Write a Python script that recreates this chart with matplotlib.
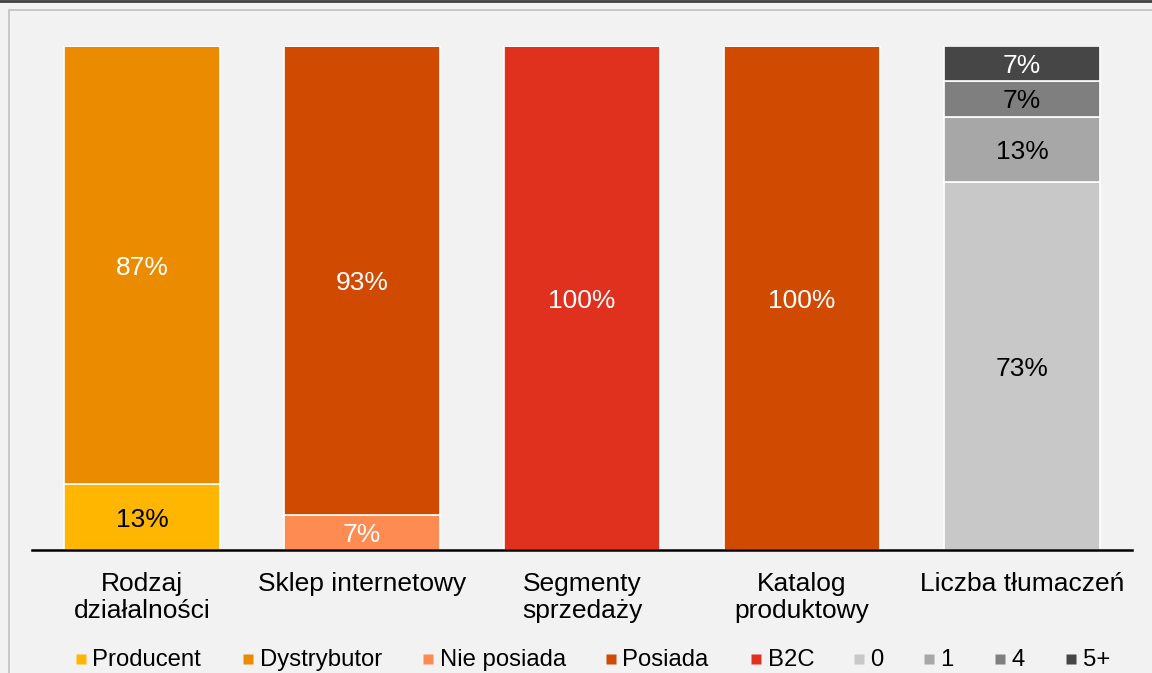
import matplotlib as mpl
mpl.use('Agg')
import matplotlib.pyplot as plt
from matplotlib.lines import Line2D
from matplotlib.patches import Rectangle
import numpy as np

plt.rcParams['font.family'] = ['Liberation Sans', 'DejaVu Sans']

categories = ['Rodzaj\ndziałalności', 'Sklep internetowy', 'Segmenty\nsprzedaży',
              'Katalog\nproduktowy', 'Liczba tłumaczeń']
series_names = ['Producent', 'Dystrybutor', 'Nie posiada', 'Posiada', 'B2C',
                '0', '1', '4', '5+']
producent = [13, 0, 0, 0, 0]
dystrybutor = [87, 0, 0, 0, 0]
nie_posiada = [0, 7, 0, 0, 0]
posiada = [0, 93, 0, 100, 0]
b2c = [0, 0, 100, 0, 0]
t0 = [0, 0, 0, 0, 73]
t1 = [0, 0, 0, 0, 13]
t4 = [0, 0, 0, 0, 7]
t5 = [0, 0, 0, 0, 7]
series_values = [producent, dystrybutor, nie_posiada, posiada, b2c, t0, t1, t4, t5]
colors = ['#FFB600', '#EB8C00', '#FD8B52', '#D04A02', '#E0301E',
          '#C8C8C8', '#A7A7A7', '#7F7F7F', '#464646']
label_colors = ['black', 'white', 'white', 'white', 'white',
                'black', 'black', 'black', 'white']

W, H = 1152, 673
bg = '#F2F2F2'
fig = plt.figure(figsize=(W / 100, H / 100), dpi=100, facecolor=bg)
ax = fig.add_axes([32 / W, 1 - 550 / H, 1100 / W, 504 / H])
ax.set_facecolor(bg)

x = np.arange(len(categories))
bottom = np.zeros(len(categories))
for name, vals, c, lc in zip(series_names, series_values, colors, label_colors):
    vals = np.array(vals, dtype=float)
    bars = ax.bar(x, vals, 0.71, bottom=bottom, color=c, edgecolor='white',
                  linewidth=1.2, label=name)
    for b, v, y0 in zip(bars, vals, bottom):
        if v > 0:
            ax.text(b.get_x() + b.get_width() / 2, y0 + v / 2 - 0.5, f'{v:.0f}%',
                    ha='center', va='center', fontsize=19, color=lc)
    bottom += vals

ax.set_xlim(-0.5, len(categories) - 0.5)
ax.set_ylim(0, 100)
ax.set_yticks([])
ax.set_xticks(x)
ax.set_xticklabels(categories, fontsize=19, linespacing=1.12)
ax.tick_params(axis='x', length=0, pad=16)
for s in ['top', 'right', 'left']:
    ax.spines[s].set_visible(False)
ax.spines['bottom'].set_linewidth(1.8)
ax.spines['bottom'].set_color('black')

# legend, laid out like the original (uneven slots)
legend_x = [81, 248, 428, 611, 756, 859, 929, 1000, 1071]
for lx, name, c in zip(legend_x, series_names, colors):
    fig.add_artist(Line2D([lx / W], [1 - 658.5 / H], transform=fig.transFigure,
                          marker='s', markersize=7.8, markerfacecolor=c,
                          markeredgecolor='none', linestyle='none'))
    fig.text((lx + 11.5) / W, 1 - 666 / H, name, fontsize=17.2, ha='left',
             va='baseline', color='black')

# outer frame
fig.add_artist(Rectangle((9 / W, -0.05), 1.1, 1 - 10 / H + 0.05,
                         transform=fig.transFigure, fill=False,
                         edgecolor='#C0C0C0', linewidth=1.2))
fig.add_artist(Line2D([0, 1], [1 - 0.5 / H, 1 - 0.5 / H], transform=fig.transFigure,
                      color='#404040', linewidth=2))

fig.savefig('out.png', dpi=100, facecolor=bg)
